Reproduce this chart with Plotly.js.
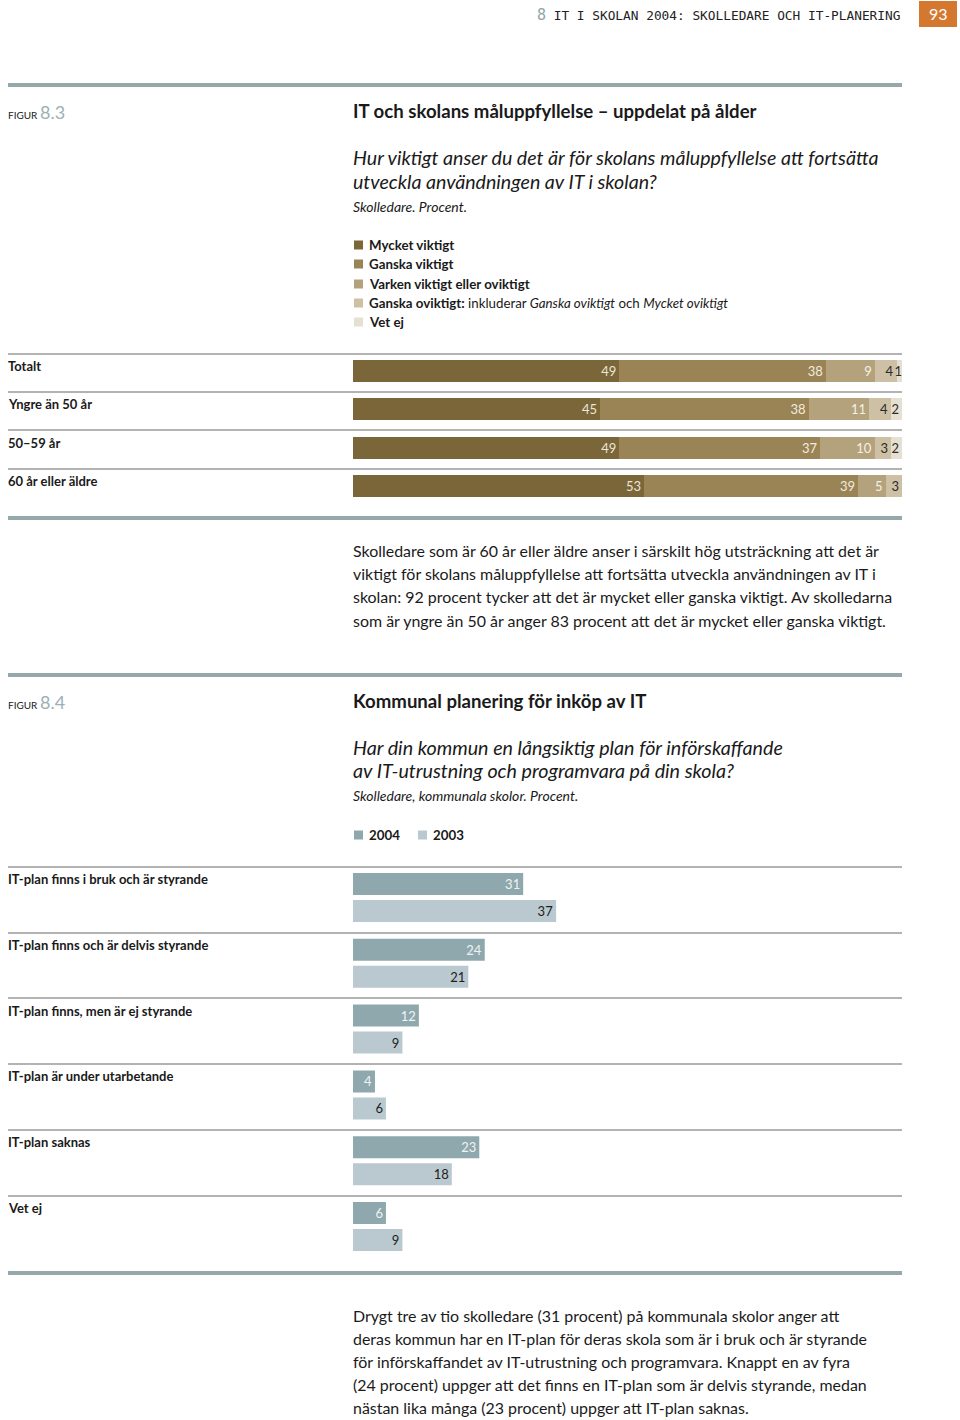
<!DOCTYPE html>
<html><head><meta charset="utf-8">
<script src="https://cdn.plot.ly/plotly-3.0.1.min.js"></script>
<style>
body{margin:0;background:#fff;}
#f1{position:absolute;left:0;top:0;width:960px;height:640px;}
#f2{position:absolute;left:0;top:640px;width:960px;height:780px;}
</style>
</head><body><div id="f1"></div><div id="f2"></div>
<script>
// ---------- DATA ----------
const ageGroups = ['Totalt', 'Yngre än 50 år', '50–59 år', '60 år eller äldre'];
const mycketViktigt = [49, 45, 49, 53];
const ganskaViktigt = [38, 38, 37, 39];
const varkenViktigt = [9, 11, 10, 5];
const ganskaOviktigt = [4, 4, 3, 3];
const vetEj83 = [1, 2, 2, 0];
const seriesNames83 = ['Mycket viktigt', 'Ganska viktigt', 'Varken viktigt eller oviktigt', 'Ganska oviktigt', 'Vet ej'];

const planCategories = ['IT-plan finns i bruk och är styrande', 'IT-plan finns och är delvis styrande',
  'IT-plan finns, men är ej styrande', 'IT-plan är under utarbetande', 'IT-plan saknas', 'Vet ej'];
const values2004 = [31, 24, 12, 4, 23, 6];
const values2003 = [37, 21, 9, 6, 18, 9];
const yearNames = ['2004', '2003'];

// ---------- STYLE ----------
const FONT = 'Lato, "Noto Sans", sans-serif';
const W = 960, H1 = 640, H2 = 780, OFF2 = 640;
const col83 = ['#7a6639', '#9a8456', '#b3a27c', '#cdc0a4', '#e6e0d2'];
const txt83 = ['#ece5d6', '#f1ebdf', '#f6f1e6', '#2b2b2b', '#2b2b2b'];
const col84 = ['#8fa8ad', '#b9c9cf'];
const txt84 = ['#eef3f4', '#1e1e1e'];
const RULE = '#95a9ab', SEP = '#9a9a9a';
const APAD = 2; // annotation inner padding in px

function px(x) { return x / W; }
function py1(y) { return 1 - y / H1; }
function py2(y) { return 1 - (y - OFF2) / H2; }

// xpx: left edge of text in page pixels
function ann(xpx, y, text, size, opts) {
  return Object.assign({
    xref: 'paper', yref: 'paper', x: px(xpx - APAD), y: y, text: text, showarrow: false,
    xanchor: 'left', yanchor: 'middle', align: 'left',
    font: { family: FONT, size: size, color: '#1a1a1a' }
  }, opts || {});
}
function hline(x0, x1, y, w, c) {
  return { type: 'line', xref: 'paper', yref: 'paper', x0: x0, x1: x1, y0: y, y1: y, line: { color: c, width: w } };
}
function rect(x0, x1, y0, y1, c) {
  return { type: 'rect', xref: 'paper', yref: 'paper', x0: x0, x1: x1, y0: y0, y1: y1, fillcolor: c, line: { width: 0 } };
}

// ---------- FIGURE 8.3 ----------
const series83 = [mycketViktigt, ganskaViktigt, varkenViktigt, ganskaOviktigt, vetEj83];
const traces1 = series83.map((vals, i) => ({
  type: 'bar', orientation: 'h', name: seriesNames83[i],
  y: ageGroups, x: vals,
  text: vals.map(v => v ? String(v) : ''),
  textposition: 'inside', insidetextanchor: 'end', textangle: 0, constraintext: 'none',
  textfont: { family: FONT, size: 13, color: txt83[i] },
  marker: { color: col83[i], line: { width: 0 } },
  cliponaxis: false
}));

const shapes1 = [
  rect(px(919), px(957), py1(27), py1(1), '#d5782f'),
  hline(px(8), px(902), py1(85), 4, RULE),
  hline(px(8), px(902), py1(518), 4, RULE)
];
[354, 392, 430, 469].forEach(y => shapes1.push(hline(px(8), px(902), py1(y), 1.5, SEP)));
const legendY83 = [245, 264, 284, 303, 322];
legendY83.forEach((y, i) => shapes1.push(rect(px(354), px(363), py1(y + 4.5), py1(y - 4.5), col83[i])));

const annots1 = [
  ann(537, py1(15), '<span style="color:#8fa5aa;font-size:15px">8</span> IT I SKOLAN 2004: SKOLLEDARE OCH IT-PLANERING', 12.8,
    { font: { family: '"DejaVu Sans Mono", monospace', size: 12.8, color: '#222' } }),
  { xref: 'paper', yref: 'paper', x: px(938), y: py1(14), text: '93', showarrow: false, xanchor: 'center', yanchor: 'middle',
    font: { family: FONT, size: 16, color: '#ffffff' } },
  ann(8, py1(112), '<span style="font-size:10px">FIGUR</span> <span style="font-size:18px;color:#9cb0b5">8.3</span>', 10),
  ann(353, py1(111), '<b>IT och skolans måluppfyllelse – uppdelat på ålder</b>', 18.6),
  ann(353, py1(158), '<i>Hur viktigt anser du det är för skolans måluppfyllelse att fortsätta</i>', 19.6),
  ann(353, py1(181), '<i>utveckla användningen av IT i skolan?</i>', 19.6),
  ann(353, py1(206), '<i>Skolledare. Procent.</i>', 14),
  ann(369, py1(245), '<b>Mycket viktigt</b>', 13.3),
  ann(369, py1(264), '<b>Ganska viktigt</b>', 13.3),
  ann(369, py1(284), '<b>Varken viktigt eller oviktigt</b>', 13.3),
  ann(369, py1(303), '<b>Ganska oviktigt:</b> inkluderar <i>Ganska oviktigt</i> och <i>Mycket oviktigt</i>', 13.3),
  ann(369, py1(322), '<b>Vet ej</b>', 13.3)
];
const rowLabelY83 = [366, 404, 443, 481];
ageGroups.forEach((g, i) => annots1.push(ann(8, py1(rowLabelY83[i]), '<b>' + g + '</b>', 13)));
const para1 = [
  'Skolledare som är 60 år eller äldre anser i särskilt hög utsträckning att det är',
  'viktigt för skolans måluppfyllelse att fortsätta utveckla användningen av IT i',
  'skolan: 92 procent tycker att det är mycket eller ganska viktigt. Av skolledarna',
  'som är yngre än 50 år anger 83 procent att det är mycket eller ganska viktigt.'
];
const para1Y = [550, 573, 596, 620];
para1.forEach((t, i) => annots1.push(ann(353, py1(para1Y[i]), t, 15.95)));

const layout1 = {
  width: W, height: H1, margin: { l: 0, r: 0, t: 0, b: 0 },
  paper_bgcolor: '#fff', plot_bgcolor: 'rgba(0,0,0,0)',
  barmode: 'stack', barnorm: 'percent', bargap: 0.43, showlegend: false,
  xaxis: { domain: [px(353), px(902)], range: [0, 100], visible: false, fixedrange: true },
  yaxis: { domain: [py1(505.2), py1(351.8)], type: 'category', categoryarray: ageGroups,
    range: [3.5, -0.5], visible: false, fixedrange: true },
  shapes: shapes1, annotations: annots1,
  font: { family: FONT }
};
Plotly.newPlot('f1', traces1, layout1, { displayModeBar: false, staticPlot: true });

// ---------- FIGURE 8.4 ----------
const series84 = [values2004, values2003];
const traces2 = series84.map((vals, i) => ({
  type: 'bar', orientation: 'h', name: yearNames[i],
  y: planCategories, x: vals,
  text: vals.map(String),
  textposition: 'inside', insidetextanchor: 'end', textangle: 0, constraintext: 'none',
  textfont: { family: FONT, size: 13, color: txt84[i] },
  marker: { color: col84[i], line: { width: 0 } },
  cliponaxis: false
}));

const shapes2 = [
  hline(px(8), px(902), py2(675), 4, RULE),
  hline(px(8), px(902), py2(1273), 4, RULE),
  rect(px(354), px(363), py2(839.5), py2(830.5), col84[0]),
  rect(px(418), px(427), py2(839.5), py2(830.5), col84[1])
];
[867, 933, 998, 1064, 1130, 1196].forEach(y => shapes2.push(hline(px(8), px(902), py2(y), 1.5, SEP)));

const annots2 = [
  ann(8, py2(702), '<span style="font-size:10px">FIGUR</span> <span style="font-size:18px;color:#9cb0b5">8.4</span>', 10),
  ann(353, py2(701), '<b>Kommunal planering för inköp av IT</b>', 18.6),
  ann(353, py2(748), '<i>Har din kommun en långsiktig plan för införskaffande</i>', 19.7),
  ann(353, py2(771), '<i>av IT-utrustning och programvara på din skola?</i>', 19.7),
  ann(353, py2(796), '<i>Skolledare, kommunala skolor. Procent.</i>', 14),
  ann(369, py2(835), '<b>' + yearNames[0] + '</b>', 13.3),
  ann(433, py2(835), '<b>' + yearNames[1] + '</b>', 13.3)
];
const rowLabelY84 = [879, 945, 1011, 1076, 1142, 1208];
planCategories.forEach((c, i) => annots2.push(ann(8, py2(rowLabelY84[i]), '<b>' + c + '</b>', 13)));
const para2 = [
  'Drygt tre av tio skolledare (31 procent) på kommunala skolor anger att',
  'deras kommun har en IT-plan för deras skola som är i bruk och är styrande',
  'för införskaffandet av IT-utrustning och programvara. Knappt en av fyra',
  '(24 procent) uppger att det finns en IT-plan som är delvis styrande, medan',
  'nästan lika många (23 procent) uppger att IT-plan saknas.'
];
const para2Y = [1315, 1338, 1361, 1384, 1407];
para2.forEach((t, i) => annots2.push(ann(353, py2(para2Y[i]), t, 15.95)));

const layout2 = {
  width: W, height: H2, margin: { l: 0, r: 0, t: 0, b: 0 },
  paper_bgcolor: '#fff', plot_bgcolor: 'rgba(0,0,0,0)',
  barmode: 'group', bargap: 0.179, bargroupgap: 0.185, showlegend: false,
  xaxis: { domain: [px(353), px(902)], range: [0, 100], visible: false, fixedrange: true },
  yaxis: { domain: [py2(1259.5), py2(864.5)], type: 'category', categoryarray: planCategories,
    range: [5.5, -0.5], visible: false, fixedrange: true },
  shapes: shapes2, annotations: annots2,
  font: { family: FONT }
};
Plotly.newPlot('f2', traces2, layout2, { displayModeBar: false, staticPlot: true });
</script>
</body></html>
